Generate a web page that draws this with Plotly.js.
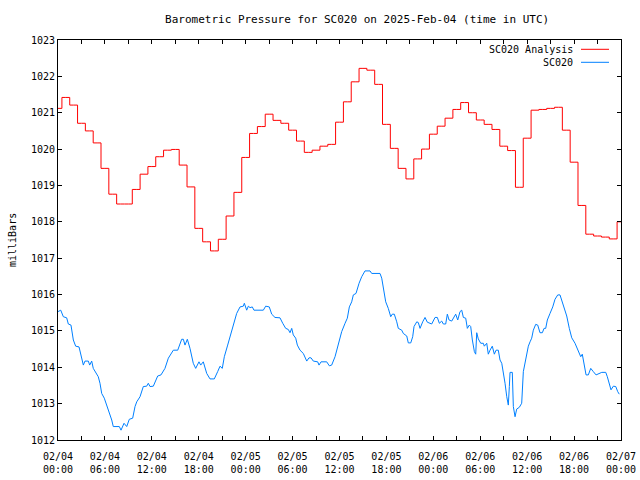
<!DOCTYPE html>
<html>
<head>
<meta charset="utf-8">
<script src="https://cdn.plot.ly/plotly-3.0.1.min.js"></script>
<style>html,body{margin:0;padding:0;background:#fff;}#chart{width:640px;height:480px;}</style>
</head>
<body>
<div id="chart"></div>
<script>
// Start time of the chart (UTC)
const startTime = "2025-02-04T00:00:00Z";

// SC020 Analysis: hourly values (hour offsets 0..72)
const analysisHours = [0,1,2,3,4,5,6,7,8,9,10,11,12,13,14,15,16,17,18,19,20,21,22,23,24,25,26,27,28,29,30,31,32,33,34,35,36,37,38,39,40,41,42,43,44,45,46,47,48,49,50,51,52,53,54,55,56,57,58,59,60,61,62,63,64,65,66,67,68,69,70,71,72];
const analysisP = [1021.12,1021.42,1021.21,1020.71,1020.50,1020.17,1019.47,1018.76,1018.49,1018.49,1018.89,1019.31,1019.52,1019.79,1019.97,1019.99,1019.56,1018.96,1017.82,1017.45,1017.20,1017.52,1018.16,1018.81,1019.77,1020.43,1020.62,1020.96,1020.79,1020.71,1020.52,1020.22,1019.91,1019.97,1020.08,1020.13,1020.74,1021.30,1021.85,1022.22,1022.17,1021.78,1020.68,1020.02,1019.47,1019.18,1019.73,1020.00,1020.41,1020.63,1020.85,1021.09,1021.28,1021.00,1020.80,1020.68,1020.54,1020.08,1019.96,1018.95,1020.30,1021.07,1021.09,1021.12,1021.15,1020.52,1019.64,1018.45,1017.66,1017.61,1017.58,1017.53,1018.00];

// SC020 observations: hour offsets and pressure
const obsHours = [0,0.35,0.68,1.11,1.32,1.66,1.96,2.26,2.69,2.94,3.24,3.45,3.88,4.05,4.31,4.51,5.15,5.37,5.59,5.92,6.23,6.56,6.87,7.07,7.84,8.06,8.44,8.79,9.12,9.55,9.85,10.07,10.49,10.91,11.34,11.55,11.77,12.19,12.75,13.17,13.68,14.11,14.75,15.31,15.82,16.03,16.24,16.54,16.88,17.30,17.61,18.03,18.25,18.58,19.02,19.44,19.99,20.42,20.72,21.01,21.27,21.70,22.22,22.85,23.28,23.70,23.83,24.13,24.34,24.56,24.85,25.06,26.26,26.56,27.02,27.33,27.75,28.39,28.74,29.12,29.45,29.67,29.89,30.09,30.40,30.61,30.95,31.37,31.81,32.10,32.36,32.65,33.21,33.38,33.64,34.36,34.70,35.00,35.43,35.85,36.28,36.71,37.00,37.26,37.56,37.77,38.11,38.50,38.84,39.26,39.90,40.12,41.18,41.40,41.69,41.91,42.24,42.55,42.75,43.01,43.32,43.52,43.96,44.16,44.60,44.80,45.11,45.36,45.53,45.88,46.08,46.30,46.64,46.94,47.23,47.58,47.79,48.22,48.51,48.77,49.07,49.28,49.58,49.79,50.01,50.35,50.65,50.86,51.12,51.41,51.63,51.84,52.14,52.35,52.60,52.78,52.99,53.25,53.42,53.55,53.75,54.06,54.39,54.52,54.83,55.03,55.25,55.54,55.80,56.02,56.31,56.53,56.75,56.95,57.17,57.39,57.59,57.72,57.81,58.10,58.23,58.45,58.66,59.00,59.30,59.51,59.73,59.94,60.15,60.37,60.58,60.79,61.09,61.35,61.64,61.94,62.16,62.37,62.58,62.92,63.27,63.56,63.91,64.20,64.42,64.71,65.06,65.39,65.70,66.12,66.54,66.85,67.05,67.27,67.53,67.82,68.13,68.46,68.81,69.54,70.05,70.25,70.51,70.72,71.02,71.33,71.58,71.78,72.0];
const obsP = [1015.53,1015.57,1015.39,1015.36,1015.19,1015.16,1014.75,1014.58,1014.56,1014.29,1014.06,1014.17,1014.17,1014.06,1014.17,1013.97,1013.74,1013.56,1013.28,1013.15,1012.96,1012.78,1012.55,1012.37,1012.37,1012.27,1012.46,1012.37,1012.57,1012.60,1012.92,1013.05,1013.19,1013.47,1013.48,1013.56,1013.47,1013.48,1013.76,1013.79,1013.97,1014.25,1014.47,1014.47,1014.77,1014.77,1014.61,1014.77,1014.52,1014.11,1013.97,1014.15,1014.06,1014.15,1013.83,1013.68,1013.68,1013.88,1014.03,1013.97,1014.29,1014.61,1015.02,1015.48,1015.66,1015.68,1015.76,1015.57,1015.68,1015.64,1015.66,1015.57,1015.57,1015.68,1015.66,1015.46,1015.37,1015.36,1015.21,1015.07,1015.04,1014.95,1015.07,1014.89,1014.80,1014.61,1014.47,1014.38,1014.17,1014.26,1014.26,1014.17,1014.15,1014.06,1014.15,1014.15,1014.04,1014.06,1014.29,1014.61,1014.98,1015.21,1015.35,1015.66,1015.80,1015.99,1016.03,1016.31,1016.49,1016.65,1016.65,1016.58,1016.58,1016.45,1016.03,1015.80,1015.62,1015.39,1015.46,1015.46,1015.25,1015.07,1015.02,1014.93,1014.86,1014.67,1014.67,1014.84,1015.12,1015.25,1015.23,1015.07,1015.25,1015.37,1015.24,1015.21,1015.19,1015.37,1015.37,1015.21,1015.27,1015.19,1015.19,1015.46,1015.30,1015.27,1015.39,1015.46,1015.30,1015.53,1015.57,1015.37,1015.35,1015.07,1015.16,1015.12,1014.75,1014.43,1014.36,1014.95,1014.78,1014.66,1014.66,1014.58,1014.66,1014.36,1014.47,1014.58,1014.36,1014.47,1014.47,1014.20,1014.11,1013.88,1013.56,1013.19,1012.96,1013.47,1013.86,1013.86,1012.92,1012.64,1012.85,1012.90,1013.01,1013.88,1014.11,1014.34,1014.58,1014.70,1014.80,1015.02,1015.18,1015.16,1014.95,1014.95,1015.07,1015.07,1015.30,1015.48,1015.66,1015.87,1015.99,1015.99,1015.85,1015.62,1015.41,1015.07,1014.81,1014.66,1014.47,1014.29,1014.36,1014.06,1013.79,1013.79,1013.97,1013.88,1013.79,1013.86,1013.86,1013.74,1013.56,1013.38,1013.48,1013.47,1013.33,1013.26];

// Axis tick labels (every 6 hours), ticks every 3 hours
const tickHours = [0,3,6,9,12,15,18,21,24,27,30,33,36,39,42,45,48,51,54,57,60,63,66,69,72];
const tickLabels = ["02/04<br>00:00","","02/04<br>06:00","","02/04<br>12:00","","02/04<br>18:00","",
  "02/05<br>00:00","","02/05<br>06:00","","02/05<br>12:00","","02/05<br>18:00","",
  "02/06<br>00:00","","02/06<br>06:00","","02/06<br>12:00","","02/06<br>18:00","","02/07<br>00:00"];

const seriesNames = ["SC020 Analysis", "SC020"];
const seriesColors = ["#ff0000", "#0080ff"];

const t0 = Date.parse(startTime);
function toDate(h) {
  const d = new Date(t0 + h * 3600000);
  return d.toISOString().replace("T", " ").slice(0, 19);
}

const FONT = "DejaVu Sans Mono, Liberation Mono, monospace";

const traces = [
  {
    x: analysisHours.map(toDate), y: analysisP, name: seriesNames[0],
    type: "scatter", mode: "lines", line: {color: seriesColors[0], width: 1, shape: "hvh"},
    showlegend: false
  },
  {
    x: obsHours.map(toDate), y: obsP, name: seriesNames[1],
    type: "scatter", mode: "lines", line: {color: seriesColors[1], width: 1},
    showlegend: false
  }
];

const layout = {
  width: 640, height: 480,
  paper_bgcolor: "#fff", plot_bgcolor: "#fff",
  margin: {l: 58, r: 19, t: 40, b: 40},
  font: {family: FONT, size: 10, color: "#000"},
  title: {text: "Barometric Pressure for SC020 on 2025-Feb-04 (time in UTC)",
    font: {family: FONT, size: 11, color: "#000"},
    x: 340/640, xanchor: "center", xref: "paper", y: 1 - 19/480, yanchor: "middle"},
  xaxis: {
    type: "date",
    range: [toDate(0), toDate(72)],
    tickmode: "array",
    tickvals: tickHours.map(toDate),
    ticktext: tickLabels,
    ticks: "inside", ticklen: 4, tickcolor: "#000", tickwidth: 1,
    showline: true, linecolor: "#000", linewidth: 1, mirror: "ticks",
    showgrid: false, zeroline: false,
    tickfont: {family: FONT, size: 10, color: "#000"},
    tickangle: 0,
    ticklabelstandoff: 7
  },
  yaxis: {
    range: [1012, 1023],
    tickmode: "linear", tick0: 1012, dtick: 1,
    ticks: "inside", ticklen: 4, tickcolor: "#000", tickwidth: 1,
    showline: true, linecolor: "#000", linewidth: 1, mirror: "ticks",
    showgrid: false, zeroline: false,
    tickfont: {family: FONT, size: 10, color: "#000"}
  },
  annotations: [
    {text: "milliBars", textangle: -90, xref: "paper", yref: "paper",
     x: (12 - 58) / 563, y: 0.5, xanchor: "center", yanchor: "middle", showarrow: false,
     font: {family: FONT, size: 10, color: "#000"}},
    {text: seriesNames[0], xref: "paper", yref: "paper",
     x: (575 - 58) / 563, y: (440 - 49.3) / 400, xanchor: "right", yanchor: "middle", showarrow: false,
     font: {family: FONT, size: 10, color: "#000"}},
    {text: seriesNames[1], xref: "paper", yref: "paper",
     x: (575 - 58) / 563, y: (440 - 62.3) / 400, xanchor: "right", yanchor: "middle", showarrow: false,
     font: {family: FONT, size: 10, color: "#000"}}
  ],
  shapes: [
    {type: "line", xref: "paper", yref: "paper",
     x0: (581 - 58) / 563, x1: (609 - 58) / 563, y0: (440 - 49.3) / 400, y1: (440 - 49.3) / 400,
     line: {color: seriesColors[0], width: 1}},
    {type: "line", xref: "paper", yref: "paper",
     x0: (581 - 58) / 563, x1: (609 - 58) / 563, y0: (440 - 62.3) / 400, y1: (440 - 62.3) / 400,
     line: {color: seriesColors[1], width: 1}}
  ]
};

Plotly.newPlot("chart", traces, layout, {displayModeBar: false, staticPlot: true});
</script>
</body>
</html>
